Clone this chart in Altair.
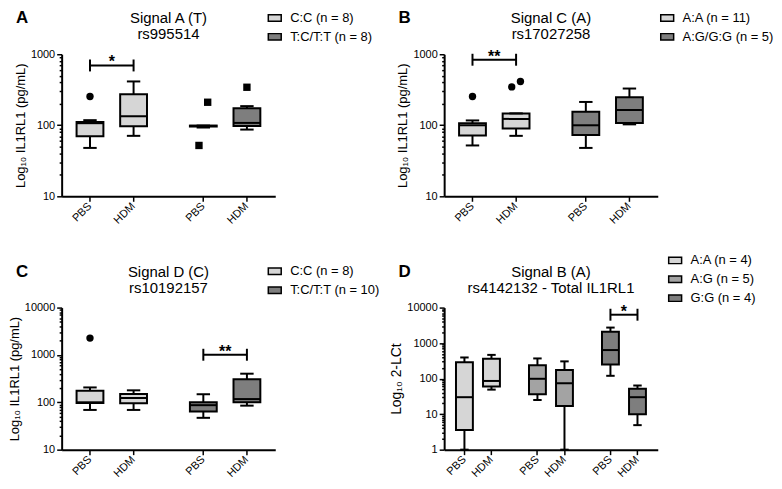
import json
import altair as alt
import pandas as pd

FONT = "Liberation Sans"
W, H = 215, 143
TREAT = ["PBS", "HDM"]
LIGHT, MID, DARK = "#d6d6d6", "#a3a3a3", "#7e7e7e"

# ---------------- Panel A ----------------
a_groups = ["C:C (n = 8)", "T:C/T:T (n = 8)"]
a_geno = [a_groups[0], a_groups[0], a_groups[1], a_groups[1]]
a_treat = ["PBS", "HDM", "PBS", "HDM"]
a_low = [48, 71, 93, 87]
a_q1 = [70, 97, 96, 98]
a_med = [107, 134, 98, 108]
a_q3 = [111, 273, 99, 173]
a_high = [118, 414, 99, 186]
a_out_geno = [a_groups[0], a_groups[1], a_groups[1], a_groups[1]]
a_out_treat = ["PBS", "PBS", "PBS", "HDM"]
a_out_val = [254, 211, 52, 343]
a_sig = (a_groups[0], 695, "*")

# ---------------- Panel B ----------------
b_groups = ["A:A (n = 11)", "A:G/G:G (n = 5)"]
b_geno = [b_groups[0], b_groups[0], b_groups[1], b_groups[1]]
b_treat = ["PBS", "HDM", "PBS", "HDM"]
b_low = [52, 71, 48, 103]
b_q1 = [72, 90, 73, 108]
b_med = [100, 123, 100, 164]
b_q3 = [107, 147, 155, 249]
b_high = [117, 147, 213, 329]
b_out_geno = [b_groups[0], b_groups[0], b_groups[0]]
b_out_treat = ["PBS", "HDM", "HDM"]
b_out_val = [254, 347, 413]
b_sig = (b_groups[0], 837, "**")

# ---------------- Panel C ----------------
c_groups = ["C:C (n = 8)", "T:C/T:T (n = 10)"]
c_geno = [c_groups[0], c_groups[0], c_groups[1], c_groups[1]]
c_treat = ["PBS", "HDM", "PBS", "HDM"]
c_low = [69, 69, 47, 85]
c_q1 = [97, 95, 64, 100]
c_med = [100, 123, 87, 117]
c_q3 = [175, 150, 100, 307]
c_high = [206, 179, 148, 402]
c_out_geno = [c_groups[0]]
c_out_treat = ["PBS"]
c_out_val = [2270]
c_sig = (c_groups[1], 1010, "**")

# ---------------- Panel D ----------------
d_groups = ["A:A (n = 4)", "A:G (n = 5)", "G:G (n = 4)"]
d_geno = [d_groups[0], d_groups[0], d_groups[1], d_groups[1], d_groups[2], d_groups[2]]
d_treat = ["PBS", "HDM", "PBS", "HDM", "PBS", "HDM"]
d_low = [1, 49, 25, 1, 120, 4.9]
d_q1 = [3.6, 60, 36.5, 17, 249, 10]
d_med = [30, 86, 99, 74, 637, 30]
d_q3 = [288, 363, 239, 175, 2090, 52]
d_high = [394, 466, 370, 306, 2737, 64]
d_sig = (d_groups[2], 6300, "*")


def log_ticks(lo, hi):
    vals = []
    for e in range(lo, hi):
        for m in range(1, 10):
            vals.append(m * 10 ** e)
    vals.append(10 ** hi)
    return vals


def panel(letter, title, ytitle, groups, fills, square_groups, box, out, sig,
          ylo, yhi, legend_x, legend_y, box_w, gstep, pad, ytitle_size=13):
    def pos(g, t):
        return groups.index(g) * gstep + TREAT.index(t) * 10

    real = {pos(g, t): t for g in groups for t in TREAT}
    last = max(real)
    domain = [("%d|%s" % (i, real[i])) if i in real else str(i)
              for i in range(-pad, last + pad + 1)]
    real_keys = ["%d|%s" % (i, real[i]) for i in sorted(real)]

    def key(g, t):
        return "%d|%s" % (pos(g, t), t)

    major = [10 ** e for e in range(ylo, yhi + 1)]
    is_major = "indexof(%s, datum.value) >= 0" % json.dumps(major)
    yscale = alt.Scale(type="log", domain=[10 ** ylo, 10 ** yhi], nice=False)
    yaxis = alt.Axis(
        values=log_ticks(ylo, yhi),
        labelExpr=is_major + " ? format(datum.value, 'd') : ''",
        tickSize={"condition": {"test": is_major, "value": 5}, "value": 2.5},
        labelOverlap=False,
        title=ytitle, titleFont=FONT, titleFontSize=ytitle_size,
        titleFontWeight="normal", titleColor="black", titlePadding=3,
        labelFont=FONT, labelFontSize=11, labelColor="black", labelPadding=2,
        domainColor="black", domainWidth=2, tickColor="black", tickWidth=1.5,
        grid=False,
    )
    xaxis = alt.Axis(
        values=real_keys, labelExpr="split(datum.value, '|')[1]",
        labelAngle=-45, labelAlign="right", labelBaseline="middle",
        labelFont=FONT, labelFontSize=11, labelColor="black", labelPadding=3,
        labelOverlap=False, tickSize=5, tickColor="black", tickWidth=1.5,
        title=None, domainColor="black", domainWidth=2, grid=False,
    )
    x = alt.X("key:N", axis=xaxis,
              scale=alt.Scale(domain=domain, paddingInner=0, paddingOuter=0))

    def y(field):
        return alt.Y(field + ":Q", scale=yscale, axis=yaxis)

    leg = alt.Legend(
        orient="none", legendX=W + legend_x, legendY=legend_y, title=None,
        symbolType="M-1,-0.5L1,-0.5L1,0.5L-1,0.5Z", symbolSize=169,
        symbolStrokeColor="black", symbolStrokeWidth=1.5, symbolOpacity=1,
        labelFont=FONT, labelFontSize=13, labelColor="black", labelOffset=8,
        rowPadding=4, padding=0,
    )

    bdf = pd.DataFrame(box)
    bdf["key"] = [key(g, t) for g, t in zip(bdf.genotype, bdf.treatment)]
    base = alt.Chart(bdf)
    layers = [
        base.mark_rule(color="black", strokeWidth=2).encode(
            x=x, y=y("low"), y2="high:Q"),
        base.mark_bar(stroke="black", strokeWidth=2, size=box_w, opacity=1).encode(
            x=x, y=y("q1"), y2="q3:Q",
            fill=alt.Fill("genotype:N", scale=alt.Scale(domain=groups, range=fills),
                          legend=leg)),
        base.mark_tick(color="black", thickness=2, size=box_w, opacity=1).encode(
            x=x, y=y("med")),
        base.mark_tick(color="black", thickness=2, size=box_w * 0.5, opacity=1).encode(
            x=x, y=y("low")),
        base.mark_tick(color="black", thickness=2, size=box_w * 0.5, opacity=1).encode(
            x=x, y=y("high")),
    ]

    if out:
        odf = pd.DataFrame(out)
        odf["pos"] = [pos(g, t) for g, t in zip(odf.genotype, odf.treatment)]
        ob = alt.Chart(odf).transform_window(
            rank="rank()", groupby=["genotype", "treatment"],
            sort=[alt.SortField("val")]
        ).transform_joinaggregate(
            n="count()", groupby=["genotype", "treatment"]
        ).transform_calculate(
            nudge="datum.n == 2 ? (datum.rank == 1 ? -1 : 1) : 0"
        ).transform_calculate(
            key="datum.nudge == 0 ? datum.pos + '|' + datum.treatment : '' + (datum.pos + datum.nudge)"
        )
        sq = json.dumps(square_groups)
        layers += [
            ob.transform_filter("indexof(%s, datum.genotype) < 0" % sq).mark_point(
                filled=True, color="black", opacity=1, size=55, shape="circle").encode(
                x=x, y=y("val")),
            ob.transform_filter("indexof(%s, datum.genotype) >= 0" % sq).mark_point(
                filled=True, color="black", opacity=1, size=55, shape="square").encode(
                x=x, y=y("val")),
        ]

    sg, sv, st = sig
    sdf = pd.DataFrame({"key": [key(sg, "PBS"), key(sg, "HDM")], "val": [sv, sv]})
    mid = str((pos(sg, "PBS") + pos(sg, "HDM")) // 2)
    sb = alt.Chart(sdf)
    layers += [
        sb.mark_line(color="black", strokeWidth=2).encode(x=x, y=y("val")),
        sb.mark_tick(orient="vertical", color="black", thickness=2, size=12,
                     opacity=1).encode(x=x, y=y("val")),
        alt.Chart(pd.DataFrame({"key": [mid], "val": [sv], "t": [st]})).mark_text(
            font=FONT, fontSize=16, fontWeight="bold", baseline="alphabetic",
            color="black", dy=2).encode(x=x, y=y("val"), text="t:N"),
    ]

    layers += [
        alt.Chart(pd.DataFrame({"t": [title]})).mark_text(
            align="center", baseline="top", font=FONT, fontSize=15, lineBreak="\n",
            lineHeight=16, color="black").encode(
            x=alt.value(W / 2), y=alt.value(-43), text="t:N"),
        alt.Chart(pd.DataFrame({"t": [letter]})).mark_text(
            align="left", baseline="top", font=FONT, fontSize=17, fontWeight="bold",
            color="black").encode(x=alt.value(-46), y=alt.value(-44), text="t:N"),
    ]
    return alt.layer(*layers).properties(width=W, height=H)


def rows(geno, treat, low, q1, med, q3, high):
    return {"genotype": geno, "treatment": treat, "low": low, "q1": q1,
            "med": med, "q3": q3, "high": high}


def outs(geno, treat, val):
    return {"genotype": geno, "treatment": treat, "val": val}


YT1 = "Log\u2081\u2080 IL1RL1 (pg/mL)"
YT2 = "Log\u2081\u2080 2-LCt"

pa = panel("A", "Signal A (T)\nrs995514", YT1, a_groups, [LIGHT, DARK], [a_groups[1]],
           rows(a_geno, a_treat, a_low, a_q1, a_med, a_q3, a_high),
           outs(a_out_geno, a_out_treat, a_out_val), a_sig, 1, 3, -8, -44, 27, 26, 6)
pb = panel("B", "Signal C (A)\nrs17027258", YT1, b_groups, [LIGHT, DARK], [],
           rows(b_geno, b_treat, b_low, b_q1, b_med, b_q3, b_high),
           outs(b_out_geno, b_out_treat, b_out_val), b_sig, 1, 3, 2, -44, 27, 26, 6)
pc = panel("C", "Signal D (C)\nrs10192157", YT1, c_groups, [LIGHT, DARK], [],
           rows(c_geno, c_treat, c_low, c_q1, c_med, c_q3, c_high),
           outs(c_out_geno, c_out_treat, c_out_val), c_sig, 1, 4, -8, -44, 27, 26, 6)
pd_ = panel("D", "Signal B (A)\nrs4142132 - Total IL1RL1", YT2, d_groups,
            [LIGHT, MID, DARK], [],
            rows(d_geno, d_treat, d_low, d_q1, d_med, d_q3, d_high),
            None, d_sig, 0, 4, 10, -55, 17, 27, 7, ytitle_size=14)

chart = alt.concat(
    pa, pb, pc, pd_, columns=2, spacing={"row": 112, "column": 170}, bounds="flush"
).resolve_scale(
    x="independent", y="independent", fill="independent"
).resolve_legend(fill="independent").configure_view(stroke=None).properties(padding=0)

chart.save("out.html", embed_options={"renderer": "svg", "actions": False})
